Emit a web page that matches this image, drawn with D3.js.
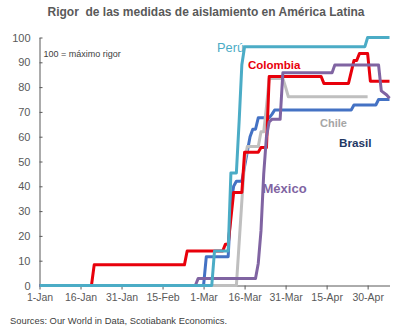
<!DOCTYPE html>
<html><head><meta charset="utf-8">
<script src="https://cdn.jsdelivr.net/npm/d3@7"></script>
<style>
body{margin:0;background:#fff}
svg{display:block}
text{font-family:"Liberation Sans",Arial,sans-serif}
</style>
</head><body>
<svg id="chart" width="412" height="330"></svg>
<script>
// ---- data ----
const xTickDates  = ["2020-01-01","2020-01-16","2020-01-31","2020-02-15","2020-03-01","2020-03-16","2020-03-31","2020-04-15","2020-04-30"];
const xTickLabels = ["1-Jan","16-Jan","31-Jan","15-Feb","1-Mar","16-Mar","31-Mar","15-Apr","30-Apr"];
const yTicks = [0,10,20,30,40,50,60,70,80,90,100];

const brasil = [["2020-01-01",0],["2020-03-01",0],["2020-03-02",11.6],["2020-03-10",11.6],["2020-03-11",33],["2020-03-12",40],["2020-03-13",42],["2020-03-15",42],["2020-03-16",48],["2020-03-17",54],["2020-03-18",60],["2020-03-19",63],["2020-03-20",63],["2020-03-21",67.6],["2020-03-25",67.6],["2020-03-26",69],["2020-03-27",70.8],["2020-04-24",70.8],["2020-04-25",72.8],["2020-05-03",72.8],["2020-05-04",75],["2020-05-08",75]];
const chile = [["2020-01-01",0],["2020-03-13",0],["2020-03-14",17],["2020-03-15",34],["2020-03-16",50],["2020-03-17",56],["2020-03-21",56],["2020-03-22",62],["2020-03-23",62],["2020-03-24",72],["2020-03-25",83.5],["2020-03-30",83.5],["2020-03-31",80],["2020-04-01",76.1],["2020-04-30",76.1]];
const colombia = [["2020-01-01",0],["2020-01-20",0],["2020-01-21",8.33],["2020-02-23",8.33],["2020-02-24",13.89],["2020-03-08",13.89],["2020-03-09",16.67],["2020-03-10",16.67],["2020-03-12",37.5],["2020-03-15",37.5],["2020-03-16",53.7],["2020-03-21",53.7],["2020-03-22",55.6],["2020-03-24",55.6],["2020-03-25",84.3],["2020-04-13",84.3],["2020-04-14",81.5],["2020-04-23",81.5],["2020-04-25",90.7],["2020-04-26",90.7],["2020-04-27",93.5],["2020-04-30",93.5],["2020-05-01",82.4],["2020-05-08",82.4]];
const mexico = [["2020-01-01",0],["2020-02-27",0],["2020-02-28",2.78],["2020-03-20",2.78],["2020-03-21",8.9],["2020-03-22",22],["2020-03-23",45],["2020-03-24",60],["2020-03-25",66],["2020-03-26",67],["2020-03-29",67],["2020-03-30",85.8],["2020-04-17",85.8],["2020-04-18",88.9],["2020-05-04",88.9],["2020-05-05",78.5],["2020-05-07",76.8],["2020-05-08",75.5]];
const peru = [["2020-01-01",0],["2020-03-04",0],["2020-03-05",13.89],["2020-03-10",13.89],["2020-03-11",45.4],["2020-03-13",45.4],["2020-03-14",66],["2020-03-15",89],["2020-03-16",96.3],["2020-04-29",96.3],["2020-04-30",100],["2020-05-08",100]];

const seriesNames  = ["Brasil","Chile","Colombia","México","Perú"];
const seriesData   = [brasil, chile, colombia, mexico, peru];
const lineColors   = ["#4472C4","#BFBFBF","#E8000B","#8064A2","#4BACC6"];
const labelColors  = ["#1F3864","#A6A6A6","#E8000B","#8064A2","#4BACC6"];
const labelPos     = [[339,147],[320,127],[248,69],[262.5,193],[217,52]];
const labelSize    = [11.7,11,11.5,13,12.8];
const labelWeight  = ["bold","bold","bold","bold","normal"];

const title  = "Rigor  de las medidas de aislamiento en América Latina";
const note   = "100 = máximo rigor";
const source = "Sources: Our World in Data, Scotiabank Economics.";

// ---- chart ----
const parse = d3.utcParse("%Y-%m-%d");
const svg = d3.select("#chart");
const x = d3.scaleUtc().domain([parse("2020-01-01"), parse("2020-05-08")]).range([39.5, 389.5]);
const y = d3.scaleLinear().domain([0,100]).range([285.5, 37.5]);
const axisColor = "#595959";

svg.append("text").attr("x",206).attr("y",16).attr("text-anchor","middle")
  .attr("font-size","12px").attr("font-weight","bold").attr("fill","#595959")
  .attr("xml:space","preserve").style("white-space","pre").text(title);

const gx = svg.append("g").attr("transform","translate(0,285.5)")
  .call(d3.axisBottom(x).tickValues(xTickDates.map(parse)).tickFormat((d,i)=>xTickLabels[i]).tickSize(4).tickSizeOuter(0).tickPadding(4));
gx.selectAll("path,line").attr("stroke",axisColor);
gx.selectAll("text").attr("fill",axisColor).attr("font-size","10.5px").attr("font-family",null);

const gy = svg.append("g").attr("transform","translate(39.5,0)")
  .call(d3.axisLeft(y).tickValues(yTicks).tickSize(-3).tickSizeOuter(0).tickPadding(9));
gy.selectAll("path,line").attr("stroke",axisColor);
gy.selectAll("text").attr("fill",axisColor).attr("font-size","11px").attr("font-family",null);

svg.append("text").attr("x",43.5).attr("y",57).attr("font-size","9px").attr("fill","#404040").text(note);

const line = d3.line().x(d=>x(parse(d[0]))).y(d=>y(d[1]));
seriesData.forEach((s,i)=>{
  svg.append("path").datum(s).attr("d",line).attr("fill","none")
    .attr("stroke",lineColors[i]).attr("stroke-width",3).attr("stroke-linejoin","round");
});

seriesNames.forEach((n,i)=>{
  svg.append("text").attr("x",labelPos[i][0]).attr("y",labelPos[i][1])
    .attr("font-size",labelSize[i]+"px").attr("font-weight",labelWeight[i]).attr("fill",labelColors[i]).text(n);
});

svg.append("text").attr("x",10).attr("y",323.5).attr("font-size","9.4px").attr("fill","#404040").text(source);
</script>
</body></html>
